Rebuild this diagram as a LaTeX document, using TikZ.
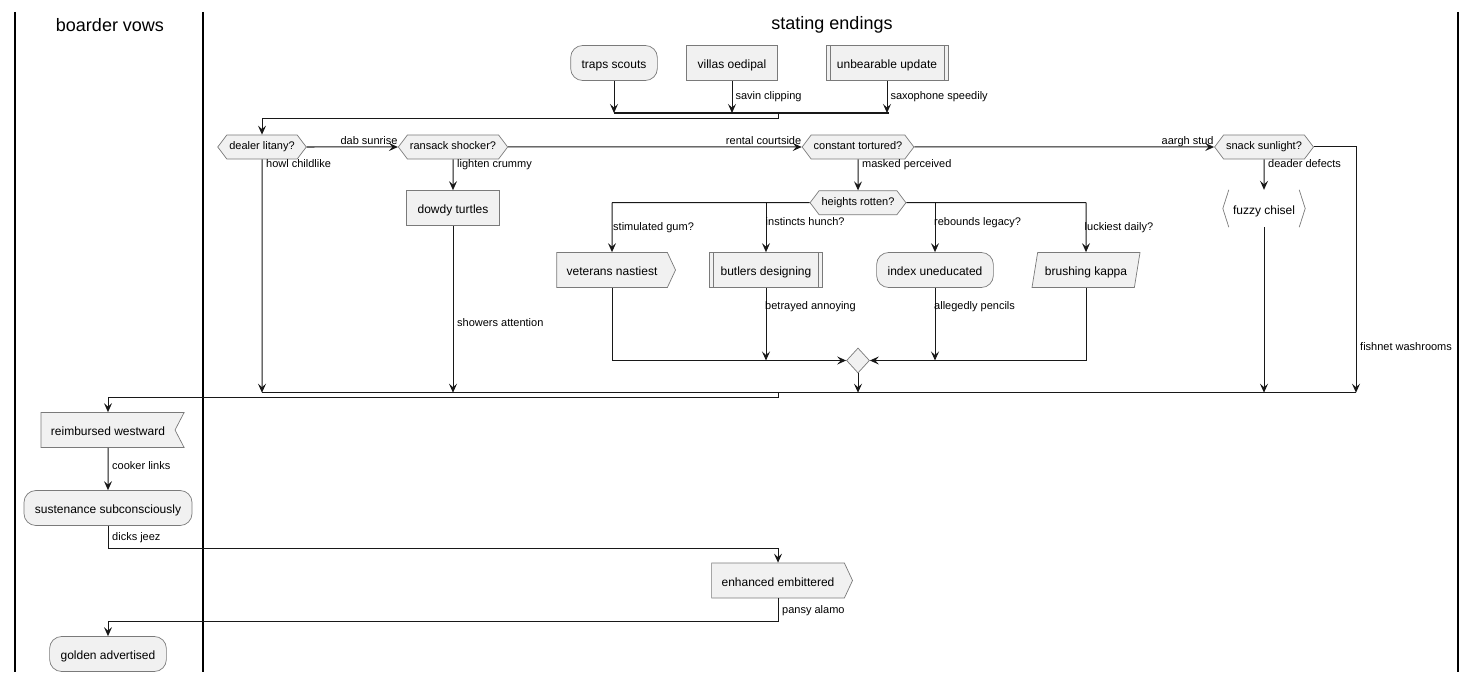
\documentclass[tikz,border=0pt]{standalone}
\usepackage{fontspec}
\setmainfont{Liberation Sans}
\usetikzlibrary{arrows.meta,shapes.symbols,shapes.geometric}

\definecolor{boxfill}{HTML}{F1F1F1}
\definecolor{ink}{HTML}{181818}
\definecolor{edge}{HTML}{7A7A7A}

\begin{document}
\begin{tikzpicture}[x=1pt, y=-1pt,
    every node/.style={font=\fontsize{12}{14}\selectfont},
    box/.style={draw=edge, line width=0.7pt, fill=boxfill, minimum height=35pt, inner xsep=11pt,
        text height=12pt, text depth=1pt},
    roundbox/.style={box, rounded corners=12pt},
    decide/.style={draw=edge, line width=0.7pt, fill=boxfill, signal, signal to=west and east,
        signal pointer angle=106, minimum height=24pt, inner xsep=2.5pt, font=\fontsize{11}{13}\selectfont,
        text height=8pt, text depth=2.4pt},
    sendbox/.style={box, signal, signal to=east, signal pointer angle=130, inner xsep=10pt},
    getbox/.style={box, signal, signal to=nowhere, signal from=east, signal pointer angle=125, inner xsep=10pt},
    slantbox/.style={box, trapezium, trapezium left angle=74, trapezium right angle=106,
        trapezium stretches body, inner xsep=3pt},
    lbl/.style={font=\fontsize{11}{13}\selectfont, inner sep=0pt, text height=8pt, text depth=2.5pt},
    title/.style={font=\fontsize{18}{20}\selectfont},
    flow/.style={draw=ink, line width=1pt, -{Stealth[length=9pt, width=8pt, inset=3.5pt]}},
    wire/.style={draw=ink, line width=1pt},
    lane/.style={line width=1.5pt, black},
]
    \useasboundingbox (0,0) rectangle (1477,682);
    \foreach \x in {15,203,1458} {
        \draw[lane] (\x,12) -- (\x,672);
    }
    \node[title] (vowsTitle) at (110,25) {boarder vows};
    \node[title] (endingsTitle) at (832,25) {stating endings};

    % top row and first bar
    \node[roundbox] (traps) at (614,63) {traps scouts};
    \node[box] (villas) at (732,63) {villas oedipal};
    \node[box] (unbear) at (887,63) {unbearable update};
    \coordinate (barL) at (614,113);
    \coordinate (barR) at (889,113);
    \coordinate (barOut) at (778,113);

    % decisions
    \node[decide] (dealer) at (262,147) {dealer litany?};
    \node[decide] (ransack) at (453,147) {ransack shocker?};
    \node[decide] (constant) at (858,147) {constant tortured?};
    \node[decide] (snack) at (1264,147) {snack sunlight?};
    \node[box] (dowdy) at (453,208) {dowdy turtles};
    \node[decide] (heights) at (858,202.7) {heights rotten?};
    \node[minimum width=82pt, minimum height=37pt, inner sep=0pt, text height=12pt, text depth=1pt]
        (fuzzy) at (1264,208.5) {fuzzy chisel};
    \coordinate (branchL) at (612,202.7);
    \coordinate (branchR) at (1086,202.7);

    \node[sendbox] (veterans) at (612,270) {veterans nastiest};
    \node[box] (butlers) at (766,270) {butlers designing};
    \node[roundbox] (index) at (935,270) {index uneducated};
    \node[slantbox, minimum width=108pt] (brushing) at (1086,270) {brushing kappa};
    \node[diamond, draw=edge, line width=0.7pt, fill=boxfill, minimum width=23pt, minimum height=25pt,
        inner sep=0pt] (join) at (858,360.5) {};
    \coordinate (mergeL) at (262,392.7);
    \coordinate (mergeR) at (1356,392.7);
    \coordinate (mergeOut) at (778,392.7);

    % left lane
    \node[getbox] (reimb) at (108,430) {reimbursed westward};
    \node[roundbox] (sust) at (108,508) {sustenance subconsciously};
    \node[sendbox] (enh) at (778,580.5) {enhanced embittered};
    \node[roundbox] (golden) at (108,654) {golden advertised};

    % subroutine side lines and fuzzy brackets
    \foreach \n in {unbear,butlers} {
        \draw[edge, line width=0.7pt] ([xshift=4.5pt]\n.north west) -- ([xshift=4.5pt]\n.south west);
        \draw[edge, line width=0.7pt] ([xshift=-4.5pt]\n.north east) -- ([xshift=-4.5pt]\n.south east);
    }
    \draw[edge, line width=0.7pt] ([xshift=6pt]fuzzy.north west) -- (fuzzy.west) -- ([xshift=6pt]fuzzy.south west);
    \draw[edge, line width=0.7pt] ([xshift=-6pt]fuzzy.north east) -- (fuzzy.east) -- ([xshift=-6pt]fuzzy.south east);

    % connectors
    \draw[ink, line width=2pt] (barL) -- (barR);
    \draw[flow] (traps) -- (traps |- barL);
    \draw[flow] (villas) -- (villas |- barL) node[lbl, midway, right=3pt] (lSavin) {savin clipping};
    \draw[flow] (unbear) -- (unbear |- barL) node[lbl, midway, right=3pt] (lSaxo) {saxophone speedily};
    \draw[flow] (barOut) -- ++(0,6) -| (dealer);

    \draw[flow] (dealer) -- (ransack) node[lbl, pos=1, anchor=base east, yshift=3pt] (lDab) {dab sunrise};
    \draw[flow] (ransack) -- (constant) node[lbl, pos=1, anchor=base east, yshift=3pt] (lRental) {rental courtside};
    \draw[flow] (constant) -- (snack) node[lbl, pos=1, anchor=base east, yshift=3pt] (lAargh) {aargh stud};
    \draw[flow] (snack) -| (mergeR);
    \node[lbl, anchor=west] (lFishnet) at (1360,348) {fishnet washrooms};

    \draw[flow] (dealer) -- (dealer |- mergeL);
    \node[lbl, anchor=west] (lHowl) at (266,165) {howl childlike};
    \draw[flow] (ransack) -- (dowdy);
    \node[lbl, anchor=west] (lLighten) at (457,165) {lighten crummy};
    \draw[flow] (dowdy) -- (dowdy |- mergeL);
    \node[lbl, anchor=west] (lShowers) at (457,324) {showers attention};
    \draw[flow] (constant) -- (heights);
    \node[lbl, anchor=west] (lMasked) at (862,165) {masked perceived};
    \draw[flow] (snack) -- (fuzzy);
    \node[lbl, anchor=west] (lDeader) at (1268,165) {deader defects};
    \draw[flow] (fuzzy) -- (fuzzy |- mergeL);

    \draw[wire] (heights) -- (branchL);
    \draw[wire] (heights) -- (branchR);
    \draw[flow] (branchL) -- (veterans);
    \draw[flow] (butlers |- branchL) -- (butlers);
    \draw[flow] (index |- branchR) -- (index);
    \draw[flow] (branchR) -- (brushing);
    \node[lbl, anchor=west] (lStim) at (613,228) {stimulated gum?};
    \node[lbl, anchor=west] (lInst) at (765.5,223) {instincts hunch?};
    \node[lbl, anchor=west] (lRebound) at (934,223) {rebounds legacy?};
    \node[lbl, anchor=west] (lLuck) at (1084.5,228) {luckiest daily?};

    \draw[flow] (veterans) |- (join);
    \draw[flow] (butlers) -- (butlers |- join);
    \node[lbl, anchor=west] (lBetray) at (765,307) {betrayed annoying};
    \draw[flow] (index) -- (index |- join);
    \node[lbl, anchor=west] (lAlleg) at (934,307) {allegedly pencils};
    \draw[flow] (brushing) |- (join);
    \draw[flow] (join) -- (join |- mergeL);

    \draw[wire] (mergeL) -- (mergeR);
    \draw[flow] (mergeOut) -- ++(0,4.6) -| (reimb);
    \draw[flow] (reimb) -- (sust);
    \node[lbl, anchor=west] (lCooker) at (112,466.7) {cooker links};
    \draw[flow] (sust.south) -- ++(0,22.5) -| (enh);
    \node[lbl, anchor=west] (lDicks) at (112,538) {dicks jeez};
    \draw[flow] (enh.south) -- ++(0,23) -| (golden);
    \node[lbl, anchor=west] (lPansy) at (782,611) {pansy alamo};
\end{tikzpicture}
\end{document}
